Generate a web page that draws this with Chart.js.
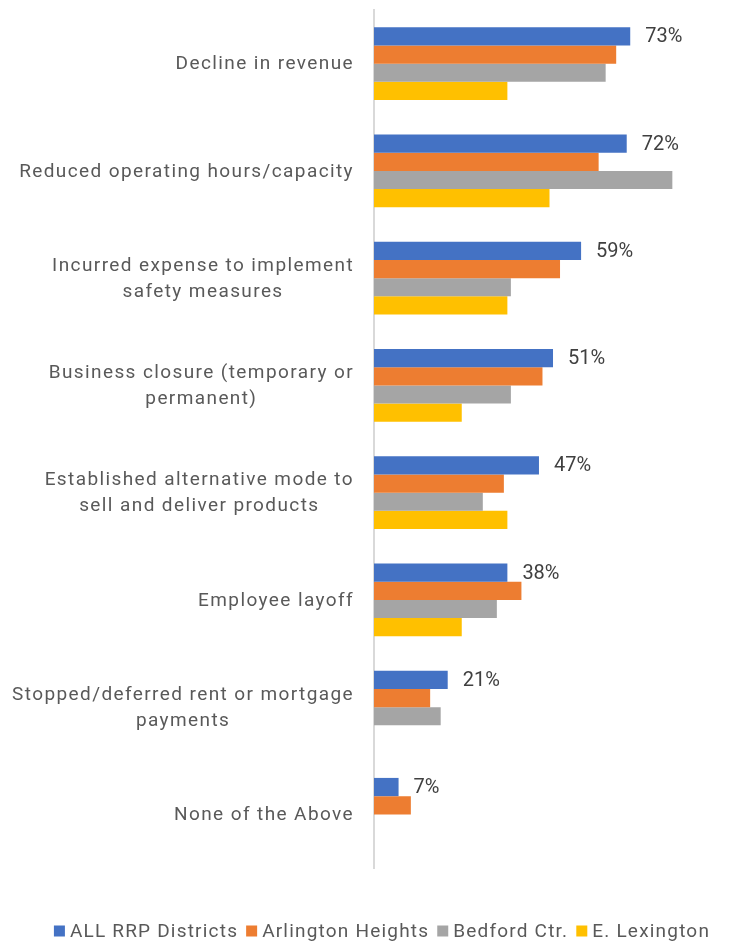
<!DOCTYPE html>
<html>
<head>
<meta charset="utf-8">
<script src="https://cdn.jsdelivr.net/npm/chart.js@4/dist/chart.umd.min.js"></script>
<style>
  html, body { margin: 0; padding: 0; background: #fff; }
  #wrap { width: 732px; height: 944px; }
</style>
</head>
<body>
<div id="wrap"><canvas id="myBarChart"></canvas></div>
<script>
// categories (each entry is the wrapped label lines)
const categories = [
  ['Decline in revenue'],
  ['Reduced operating hours/capacity'],
  ['Incurred expense to implement', 'safety measures'],
  ['Business closure (temporary or', 'permanent)'],
  ['Established alternative mode to', 'sell and deliver products'],
  ['Employee layoff'],
  ['Stopped/deferred rent or mortgage', 'payments'],
  ['None of the Above']
];

const seriesNames = ['ALL RRP Districts', 'Arlington Heights', 'Bedford Ctr.', 'E. Lexington'];

const allRRP     = [73, 72, 59, 51, 47, 38, 21, 7];
const arlington  = [69, 64, 53, 48, 37, 42, 16, 10.5];
const bedford    = [66, 85, 39, 39, 31, 35, 19, 0];
const eLexington = [38, 50, 38, 25, 38, 25, 0, 0];

const colors = ['#4472c4', '#ed7d31', '#a5a5a5', '#ffc000'];

const labelFont = '19px Roboto';

// value labels on the first series only
const valueLabels = {
  id: 'valueLabels',
  afterDatasetsDraw(chart) {
    const ctx = chart.ctx;
    const meta = chart.getDatasetMeta(0);
    ctx.save();
    ctx.font = '20px Roboto';
    ctx.fillStyle = '#404040';
    ctx.textAlign = 'left';
    ctx.textBaseline = 'middle';
    meta.data.forEach((bar, i) => {
      ctx.fillText(allRRP[i] + '%', bar.x + 15, bar.y + 1);
    });
    ctx.restore();
  }
};

// category labels: lines centred on each other, block right aligned to the axis
const categoryLabels = {
  id: 'categoryLabels',
  afterDraw(chart) {
    const ctx = chart.ctx;
    const yScale = chart.scales.y;
    const right = chart.chartArea.left - 20;
    const lineH = 26;
    ctx.save();
    ctx.font = labelFont;
    ctx.letterSpacing = '1.4px';
    ctx.fillStyle = '#595959';
    ctx.textAlign = 'center';
    ctx.textBaseline = 'middle';
    categories.forEach((lines, i) => {
      const yc = yScale.getPixelForTick(i) + 1;
      const w = Math.max(...lines.map(l => ctx.measureText(l).width));
      const xc = right - w / 2;
      const y0 = yc - (lines.length - 1) * lineH / 2;
      lines.forEach((l, j) => ctx.fillText(l, xc, y0 + j * lineH));
    });
    ctx.restore();
  }
};

// legend drawn below the plot
const bottomLegend = {
  id: 'bottomLegend',
  afterDraw(chart) {
    const ctx = chart.ctx;
    const y = 931;
    const box = 11, gapText = 5, gapItem = 8;
    ctx.save();
    ctx.font = labelFont;
    ctx.letterSpacing = '1.2px';
    ctx.textBaseline = 'middle';
    ctx.textAlign = 'left';
    const widths = seriesNames.map(n => ctx.measureText(n).width);
    const total = widths.reduce((a, w) => a + box + gapText + w, 0) + gapItem * (seriesNames.length - 1);
    let x = 382 - total / 2;
    seriesNames.forEach((n, i) => {
      ctx.fillStyle = colors[i];
      ctx.fillRect(x, y - box / 2, box, box);
      x += box + gapText;
      ctx.fillStyle = '#595959';
      ctx.fillText(n, x, y + 1);
      x += widths[i] + gapItem;
    });
    ctx.restore();
  }
};

const data = {
  labels: categories,
  datasets: [allRRP, arlington, bedford, eLexington].map((vals, i) => ({
    label: seriesNames[i],
    data: vals,
    backgroundColor: colors[i],
    borderWidth: 0,
    categoryPercentage: 0.68,
    barPercentage: 1.0
  }))
};

const config = {
  type: 'bar',
  data,
  options: {
    indexAxis: 'y',
    responsive: true,
    maintainAspectRatio: false,
    animation: false,
    layout: { padding: { top: 10, right: 7, bottom: 76, left: 0 } },
    scales: {
      x: {
        display: false,
        min: 0,
        max: 100
      },
      y: {
        grid: { display: false },
        border: { display: true, color: '#d9d9d9', width: 2 },
        ticks: { display: false },
        afterFit(scale) { scale.width = 374; }
      }
    },
    plugins: {
      tooltip: { enabled: false },
      legend: { display: false }
    }
  },
  plugins: [valueLabels, categoryLabels, bottomLegend]
};

const myChart = new Chart(document.getElementById('myBarChart'), config);
</script>
</body>
</html>
